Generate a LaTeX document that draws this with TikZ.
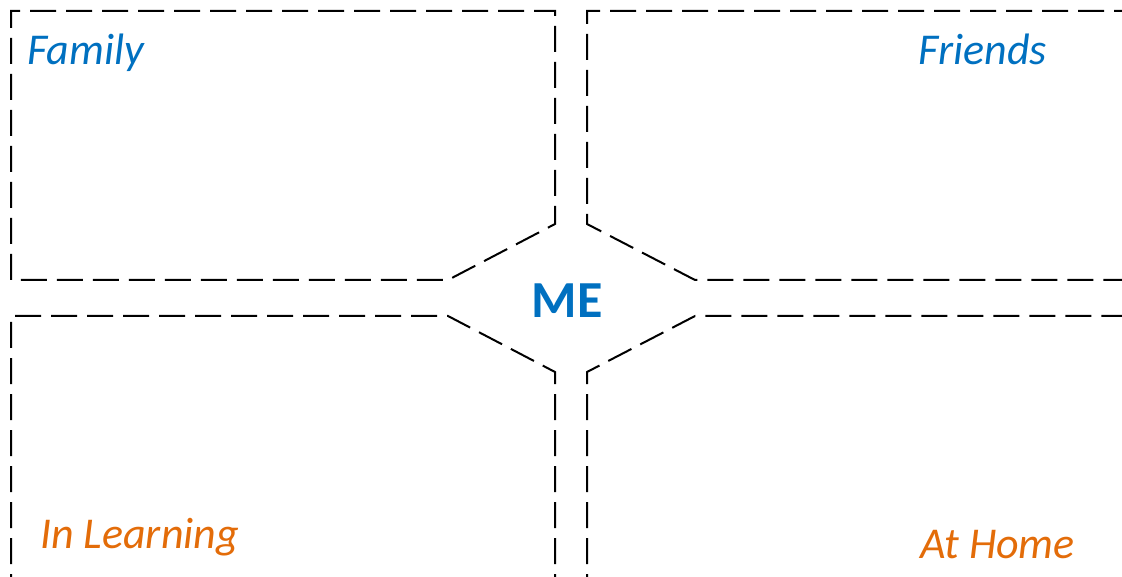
\documentclass[tikz,border=0pt]{standalone}
\usepackage{fontspec}
\setmainfont{Carlito}
\definecolor{meblue}{HTML}{0070C0}
\definecolor{meorange}{HTML}{E36C09}
\begin{document}
\begin{tikzpicture}[x=1pt,y=-1pt,
  area/.style={draw=black,line width=2pt,dash pattern=on 26pt off 10pt},
  bluelabel/.style={text=meblue,font=\fontsize{44}{48}\selectfont\itshape,inner sep=0pt,anchor=base west},
  orangelabel/.style={text=meorange,font=\fontsize{44}{48}\selectfont\itshape,inner sep=0pt,anchor=base west}]
\useasboundingbox (0,0) rectangle (1122,577);
\begin{scope}
\clip (0,0) rectangle (1122,577);
% top-left
\draw[area] (11,280) -- (11,11) -- (555,11) -- (555,224) -- (448,280) -- cycle;
% top-right
\draw[area] (1140,11) -- (587,11) -- (587,224) -- (695,280) -- (1140,280);
% bottom-left
\draw[area] (11,600) -- (11,316) -- (448,316) -- (555,372) -- (555,600);
% bottom-right
\draw[area] (587,600) -- (587,372) -- (695,316) -- (1140,316);
\end{scope}
\node[bluelabel] (family) at (27,65) {Family};
\node[bluelabel,anchor=base east] (friends) at (1047,65) {Friends};
\node[orangelabel] (learning) at (40,548) {In Learning};
\node[orangelabel,anchor=base east] (home) at (1075,558) {At Home};
\node[text=meblue,font=\fontsize{52}{56}\selectfont\bfseries,inner sep=0pt,anchor=base] (me) at (567,318) {ME};
\end{tikzpicture}
\end{document}
